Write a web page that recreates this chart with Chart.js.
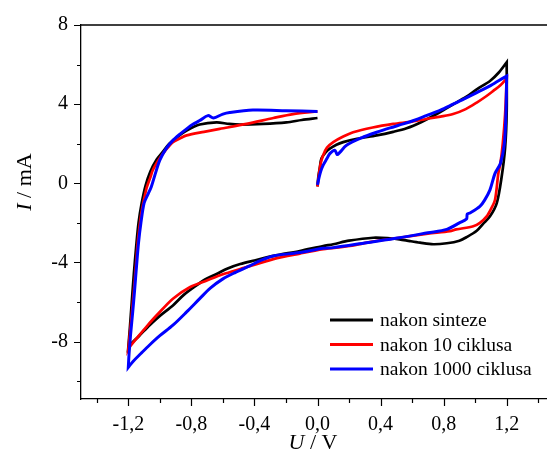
<!DOCTYPE html>
<html>
<head>
<meta charset="utf-8">
<script src="https://cdn.jsdelivr.net/npm/chart.js@4"></script>
<style>
  html, body { margin: 0; padding: 0; background: #fff; overflow: hidden; }
  #wrap { width: 560px; height: 458px; }
</style>
</head>
<body>
<div id="wrap"><canvas id="cv" width="560" height="458"></canvas></div>
<script>
// series labels and colours
const labels = ["nakon sinteze", "nakon 10 ciklusa", "nakon 1000 ciklusa"];
const colors = ["#000000", "#ff0000", "#0000ff"];

// axis ticks
const xTicks = [-1.2, -0.8, -0.4, 0, 0.4, 0.8, 1.2];
const yTicks = [-8, -4, 0, 4, 8];

// nakon sinteze: 0 -> 1.2 -> -1.2 -> 0 (turning points listed twice to keep the corners sharp)
const sintezeU = [0, 0.005, 0.015, 0.025, 0.05, 0.078, 0.12, 0.163, 0.25, 0.375, 0.48, 0.565, 0.66, 0.756, 0.82, 0.88, 0.95, 1.01, 1.094, 1.15, 1.2,
  1.2, 1.2, 1.19, 1.168, 1.137, 1.094, 1.05, 1.01, 0.946, 0.9, 0.82, 0.734, 0.65, 0.586, 0.52, 0.46, 0.353, 0.2, 0.1, 0.036, -0.112, -0.28, -0.4, -0.49, -0.57, -0.64, -0.71, -0.77, -0.85, -0.917, -1.0, -1.065, -1.13, -1.19, -1.2,
  -1.2, -1.19, -1.178, -1.165, -1.15, -1.135, -1.115, -1.09, -1.06, -1.02, -0.98, -0.94, -0.88, -0.83, -0.747, -0.64, -0.56, -0.49, -0.345, -0.197, -0.1, 0];
const sintezeI = [-0.15, 0.3, 0.8, 1.25, 1.55, 1.75, 1.95, 2.08, 2.25, 2.42, 2.6, 2.78, 3.1, 3.5, 3.8, 4.08, 4.4, 4.75, 5.17, 5.6, 6.12,
  6.12, 3.6, 1.8, 0.33, -1.0, -1.67, -2.05, -2.4, -2.72, -2.9, -3.03, -3.08, -3.0, -2.92, -2.83, -2.78, -2.75, -2.9, -3.08, -3.17, -3.42, -3.67, -3.9, -4.08, -4.3, -4.58, -4.85, -5.17, -5.65, -6.17, -6.7, -7.17, -7.7, -8.17, -8.3,
  -8.3, -7.3, -6.0, -4.6, -3.2, -2.0, -1.0, -0.1, 0.6, 1.2, 1.6, 2.0, 2.4, 2.67, 2.97, 3.08, 3.0, 2.97, 3.0, 3.08, 3.2, 3.3];

// nakon 10 ciklusa
const c10U = [0, 0.01, 0.02, 0.036, 0.06, 0.1, 0.16, 0.226, 0.35, 0.48, 0.6, 0.69, 0.78, 0.86, 0.94, 1.01, 1.07, 1.115, 1.16, 1.2,
  1.2, 1.19, 1.175, 1.16, 1.147, 1.126, 1.1, 1.073, 1.03, 0.988, 0.88, 0.84, 0.7, 0.52, 0.35, 0.205, 0.036, -0.112, -0.28, -0.49, -0.6, -0.705, -0.81, -0.917, -1.02, -1.08, -1.13, -1.19, -1.2,
  -1.2, -1.19, -1.18, -1.171, -1.16, -1.15, -1.139, -1.117, -1.086, -1.06, -1.044, -1.01, -0.98, -0.95, -0.917, -0.87, -0.83, -0.72, -0.62, -0.45, -0.28, -0.155, 0];
const c10I = [-0.17, 0.5, 1.0, 1.42, 1.8, 2.08, 2.35, 2.58, 2.82, 3.0, 3.12, 3.25, 3.37, 3.5, 3.75, 4.08, 4.4, 4.67, 4.95, 5.3,
  5.3, 3.5, 2.0, 1.0, 0.5, -0.83, -1.3, -1.67, -2.0, -2.17, -2.33, -2.42, -2.55, -2.75, -2.95, -3.17, -3.33, -3.55, -3.83, -4.33, -4.6, -4.92, -5.25, -5.83, -6.67, -7.2, -7.67, -8.25, -8.4,
  -8.4, -7.6, -6.8, -6.0, -5.0, -4.0, -2.9, -1.5, -0.3, 0.3, 0.67, 1.15, 1.5, 1.8, 2.08, 2.28, 2.42, 2.6, 2.75, 3.0, 3.3, 3.5, 3.63];

// nakon 1000 ciklusa
const c1000U = [0, 0.01, 0.02, 0.036, 0.06, 0.078, 0.11, 0.125, 0.14, 0.184, 0.28, 0.375, 0.46, 0.544, 0.62, 0.69, 0.78, 0.86, 0.94, 1.01, 1.1, 1.18, 1.2,
  1.2, 1.195, 1.185, 1.16, 1.126, 1.094, 1.06, 1.03, 0.967, 0.95, 0.945, 0.9, 0.82, 0.7, 0.52, 0.31, 0.1, 0.036, -0.112, -0.28, -0.36, -0.43, -0.52, -0.6, -0.68, -0.747, -0.83, -0.917, -1.0, -1.065, -1.12, -1.17, -1.2,
  -1.2, -1.195, -1.185, -1.172, -1.16, -1.148, -1.135, -1.12, -1.1, -1.078, -1.054, -1.03, -1.0, -0.96, -0.917, -0.87, -0.83, -0.79, -0.747, -0.695, -0.66, -0.6, -0.557, -0.41, -0.2, 0];
const c1000I = [-0.08, 0.3, 0.6, 0.92, 1.25, 1.5, 1.67, 1.45, 1.55, 1.92, 2.3, 2.58, 2.8, 3.0, 3.2, 3.42, 3.7, 4.0, 4.3, 4.58, 4.95, 5.33, 5.42,
  5.42, 3.5, 2.0, 1.0, 0.5, -0.33, -0.85, -1.17, -1.5, -1.55, -1.8, -2.0, -2.33, -2.5, -2.75, -3.0, -3.25, -3.28, -3.5, -3.67, -3.9, -4.17, -4.5, -4.83, -5.3, -5.83, -6.5, -7.17, -7.7, -8.17, -8.6, -9.0, -9.3,
  -9.3, -8.6, -7.6, -6.5, -5.4, -4.2, -3.0, -2.0, -1.0, -0.6, -0.17, 0.45, 1.17, 1.75, 2.17, 2.5, 2.75, 2.98, 3.17, 3.42, 3.3, 3.5, 3.58, 3.7, 3.67, 3.63];

const seriesU = [sintezeU, c10U, c1000U];
const seriesI = [sintezeI, c10I, c1000I];

const FONT = "'Liberation Serif', 'Times New Roman', serif";

function pts(u, i) {
  return u.map((v, k) => ({ x: v, y: i[k] }));
}

// frame, minor/major ticks, axis titles, legend
const extras = {
  id: "extras",
  afterDraw(chart) {
    const ctx = chart.ctx;
    const a = chart.chartArea;
    const xs = chart.scales.x, ys = chart.scales.y;
    ctx.save();
    ctx.strokeStyle = "#000";
    ctx.lineWidth = 1.3;
    ctx.beginPath();
    ctx.moveTo(a.left, a.top); ctx.lineTo(a.right, a.top);
    ctx.moveTo(a.right, a.top); ctx.lineTo(a.right, a.bottom);
    ctx.stroke();

    ctx.lineWidth = 1.2;
    ctx.beginPath();
    for (let k = -7; k <= 7; k++) {
      const v = k * 0.2;
      const px = Math.round(xs.getPixelForValue(v)) + 0.5;
      const len = (k % 2 === 0) ? 7 : 4;
      ctx.moveTo(px, a.bottom); ctx.lineTo(px, a.bottom + len);
    }
    for (let v = -10; v <= 8; v += 2) {
      const py = Math.round(ys.getPixelForValue(v)) + 0.5;
      const len = (v % 4 === 0) ? 7 : 4;
      ctx.moveTo(a.left, py); ctx.lineTo(a.left - len, py);
    }
    ctx.stroke();

    // x title: U / V
    ctx.fillStyle = "#000";
    ctx.textBaseline = "alphabetic";
    ctx.textAlign = "left";
    const fi = "italic 22px " + FONT, fn = "22px " + FONT;
    ctx.font = fi; const wU = ctx.measureText("U").width;
    ctx.font = fn; const wR = ctx.measureText(" / V").width;
    let sx = 313 - (wU + wR) / 2;
    ctx.font = fi; ctx.fillText("U", sx, 449);
    ctx.font = fn; ctx.fillText(" / V", sx + wU, 449);

    // y title: I / mA
    ctx.save();
    ctx.translate(31, 182);
    ctx.rotate(-Math.PI / 2);
    ctx.font = fi; const wI = ctx.measureText("I").width;
    ctx.font = fn; const wM = ctx.measureText(" / mA").width;
    sx = -(wI + wM) / 2;
    ctx.font = fi; ctx.fillText("I", sx, 0);
    ctx.font = fn; ctx.fillText(" / mA", sx + wI, 0);
    ctx.restore();

    // legend
    ctx.font = "19.5px " + FONT;
    ctx.textBaseline = "middle";
    ctx.lineWidth = 3;
    chart.data.datasets.forEach((ds, k) => {
      const y = 320 + k * 24.5;
      ctx.strokeStyle = ds.borderColor;
      ctx.beginPath();
      ctx.moveTo(330, y); ctx.lineTo(373, y);
      ctx.stroke();
      ctx.fillText(ds.label, 380, y + 1);
    });
    ctx.restore();
  }
};

new Chart(document.getElementById("cv"), {
  type: "scatter",
  data: {
    datasets: labels.map((lab, k) => ({
      label: lab,
      data: pts(seriesU[k], seriesI[k]),
      showLine: true,
      borderColor: colors[k],
      backgroundColor: colors[k],
      borderWidth: k === 2 ? 3 : 2.7,
      pointRadius: 0,
      tension: 0.3,
      order: 3 - k
    }))
  },
  options: {
    responsive: false,
    animation: false,
    layout: { padding: { top: 21, right: 6, left: 0, bottom: 0 } },
    plugins: { legend: { display: false }, tooltip: { enabled: false } },
    scales: {
      x: {
        type: "linear",
        min: -1.5, max: 1.5,
        afterBuildTicks: s => { s.ticks = xTicks.map(v => ({ value: v })); },
        afterFit: s => { s.height = 59; },
        grid: { display: false, drawTicks: false },
        border: { display: true, color: "#000", width: 1.3 },
        ticks: {
          padding: 14,
          color: "#000",
          font: { family: FONT, size: 20 },
          maxRotation: 0,
          autoSkip: false,
          callback: v => v.toFixed(1).replace(".", ",")
        }
      },
      y: {
        type: "linear",
        min: -10.9, max: 8,
        afterBuildTicks: s => { s.ticks = yTicks.map(v => ({ value: v })); },
        afterFit: s => { s.width = 81; },
        grid: { display: false, drawTicks: false },
        border: { display: true, color: "#000", width: 1.3 },
        ticks: {
          padding: 13,
          color: "#000",
          font: { family: FONT, size: 20 },
          autoSkip: false,
          callback: v => String(v)
        }
      }
    }
  },
  plugins: [extras]
});
</script>
</body>
</html>
